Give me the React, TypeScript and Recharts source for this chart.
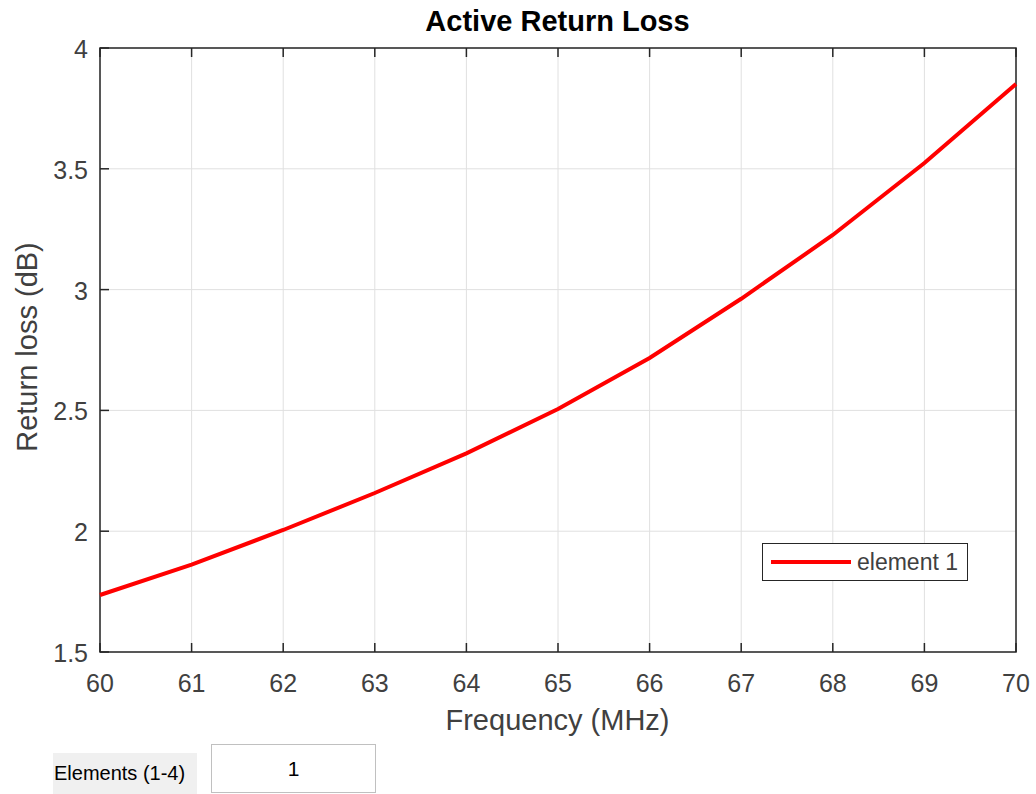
import React from "react";
import {
  LineChart,
  Line,
  XAxis,
  YAxis,
  CartesianGrid,
  ReferenceArea,
} from "recharts";

const frequencies = [60, 61, 62, 63, 64, 65, 66, 67, 68, 69, 70];
const returnLoss = [1.736, 1.862, 2.005, 2.158, 2.322, 2.506, 2.717, 2.962, 3.226, 3.524, 3.851];
const xTicks = [60, 61, 62, 63, 64, 65, 66, 67, 68, 69, 70];
const yTicks = [1.5, 2, 2.5, 3, 3.5, 4];

const data = frequencies.map((f, i) => ({ f, loss: returnLoss[i] }));

const FONT = "'Liberation Sans', Arial, Helvetica, sans-serif";
const AXIS = "#262626";
const TEXT = "#404040";

const BottomTick = (props: any) => {
  const { x, y, payload } = props;
  return (
    <g>
      <line x1={x} y1={y - 12} x2={x} y2={y - 21} stroke={AXIS} strokeWidth={1.5} />
      <text x={x} y={y + 28} textAnchor="middle" fontSize={25} fill={TEXT} fontFamily={FONT}>
        {payload.value}
      </text>
    </g>
  );
};

const TopTick = (props: any) => {
  const { x, y } = props;
  return <line x1={x} y1={y} x2={x} y2={y + 9} stroke={AXIS} strokeWidth={1.5} />;
};

const LeftTick = (props: any) => {
  const { x, y, payload } = props;
  return (
    <g>
      <line x1={x + 12} y1={y} x2={x + 21} y2={y} stroke={AXIS} strokeWidth={1.5} />
      <text x={x} y={y + 10} textAnchor="end" fontSize={25} fill={TEXT} fontFamily={FONT}>
        {payload.value}
      </text>
    </g>
  );
};

const RightTick = (props: any) => {
  const { x, y } = props;
  return <line x1={x} y1={y} x2={x - 9} y2={y} stroke={AXIS} strokeWidth={1.5} />;
};

export default function App() {
  return (
    <div
      style={{
        position: "absolute",
        left: 0,
        top: 0,
        width: 1036,
        height: 794,
        background: "#fff",
        fontFamily: FONT,
        overflow: "hidden",
      }}
    >
      <div
        style={{
          position: "absolute",
          left: 0,
          width: 1115,
          top: 4,
          lineHeight: "34px",
          textAlign: "center",
          fontWeight: "bold",
          fontSize: 29,
          color: "#000",
        }}
      >
        Active Return Loss
      </div>
      <div
        style={{
          position: "absolute",
          left: 27,
          top: 347,
          transform: "translate(-50%, -50%) rotate(-90deg)",
          whiteSpace: "nowrap",
          fontSize: 29,
          lineHeight: "34px",
          color: TEXT,
        }}
      >
        Return loss (dB)
      </div>
      <div
        style={{
          position: "absolute",
          left: 0,
          width: 1115,
          top: 703,
          lineHeight: "34px",
          textAlign: "center",
          fontSize: 29,
          color: TEXT,
        }}
      >
        Frequency (MHz)
      </div>

      <div style={{ position: "absolute", left: 0, top: 0 }}>
        <LineChart
          width={1036}
          height={740}
          data={data}
          margin={{ top: 47, right: 19, left: 20, bottom: 28 }}
        >
          <CartesianGrid stroke="#e0e0e0" strokeWidth={1} />
          <XAxis
            dataKey="f"
            type="number"
            domain={[60, 70]}
            ticks={xTicks}
            height={60}
            tickSize={0}
            tickMargin={12}
            axisLine={false}
            tick={<BottomTick />}
            interval={0}
          />
          <XAxis
            xAxisId="top"
            dataKey="f"
            type="number"
            orientation="top"
            domain={[60, 70]}
            ticks={xTicks}
            height={1}
            tickSize={0}
            tickMargin={0}
            axisLine={false}
            tick={<TopTick />}
            interval={0}
          />
          <YAxis
            type="number"
            domain={[1.5, 4]}
            ticks={yTicks}
            width={80}
            tickSize={0}
            tickMargin={12}
            axisLine={false}
            tick={<LeftTick />}
            interval={0}
          />
          <YAxis
            yAxisId="right"
            orientation="right"
            type="number"
            domain={[1.5, 4]}
            ticks={yTicks}
            width={1}
            tickSize={0}
            tickMargin={0}
            axisLine={false}
            tick={<RightTick />}
            interval={0}
          />
          <ReferenceArea
            x1={60}
            x2={70}
            y1={1.5}
            y2={4}
            fill="none"
            stroke={AXIS}
            strokeWidth={1.5}
            ifOverflow="visible"
          />
          <Line
            type="linear"
            dataKey="loss"
            stroke="#ff0000"
            strokeWidth={4}
            dot={false}
            isAnimationActive={false}
          />
        </LineChart>
      </div>

      <div
        style={{
          position: "absolute",
          left: 762,
          top: 543,
          width: 206,
          height: 38,
          border: `1.5px solid ${AXIS}`,
          background: "#fff",
          display: "flex",
          alignItems: "center",
          fontSize: 23,
          color: TEXT,
          boxSizing: "border-box",
        }}
      >
        <div style={{ width: 80, height: 4, background: "#ff0000", marginLeft: 8, marginRight: 6 }} />
        <span>element 1</span>
      </div>

      <div
        style={{
          position: "absolute",
          left: 53,
          top: 753,
          width: 144,
          height: 41,
          background: "#f0f0f0",
          fontSize: 20,
          color: "#000",
          display: "flex",
          alignItems: "center",
          paddingLeft: 1,
          boxSizing: "border-box",
          whiteSpace: "nowrap",
        }}
      >
        Elements (1-4)
      </div>
      <div
        style={{
          position: "absolute",
          left: 211,
          top: 744,
          width: 165,
          height: 49,
          border: "1.5px solid #c0c0c0",
          background: "#fff",
          boxSizing: "border-box",
          display: "flex",
          alignItems: "center",
          justifyContent: "center",
          fontSize: 21,
          color: "#000",
        }}
      >
        1
      </div>
    </div>
  );
}
